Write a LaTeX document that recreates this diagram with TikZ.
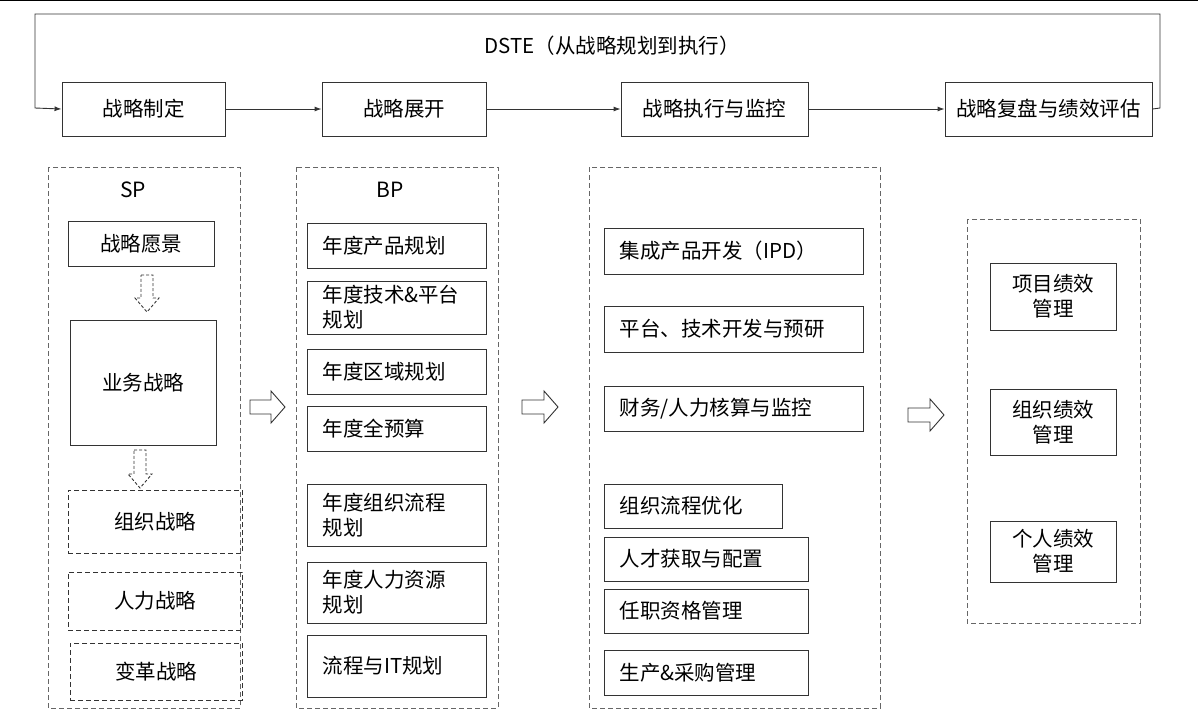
\documentclass[tikz,border=0pt]{standalone}
\usepackage{fontspec}
\setmainfont{Noto Sans CJK SC}
\usetikzlibrary{arrows.meta}
\begin{document}
\begin{tikzpicture}[x=1pt,y=-1pt,
  bx/.style={draw=black!80,line width=0.9pt,inner sep=0pt},
  dbox/.style={draw=black!60,dashed,line width=0.9pt,dash pattern=on 5pt off 3pt},
  con/.style={-{Latex[length=7pt,width=5pt]},line width=0.9pt,black!80},
  hol/.style={draw=black!80,line width=0.9pt,fill=white},
  tx/.style={font=\fontsize{20.5}{25}\selectfont}]
\useasboundingbox (0,0) rectangle (1198,724);
\fill[white] (0,0) rectangle (1198,724);
\draw[line width=1pt] (0,0.5)--(1198,0.5);
\newcommand{\bb}[6]{\node[bx,minimum width=#3-#2,minimum height=#5-#4,#6] (#1) at ({(#2+#3)/2},{(#4+#5)/2}) {};}
% top row
\bb{t1}{62}{225}{82}{136}{}\node[tx] at (t1) {战略制定};
\bb{t2}{322}{486}{82}{136}{}\node[tx] at (t2) {战略展开};
\bb{t3}{621}{808}{82}{136}{}\node[tx] at (t3) {战略执行与监控};
\bb{t4}{945}{1152}{82}{136}{}\node[tx] at (t4) {战略复盘与绩效评估};
\draw[con] (t1)--(t2); \draw[con] (t2)--(t3); \draw[con] (t3)--(t4);
\draw[con] (t4.east)--(1160,108)--(1160,14)--(35,14)--(35,108)--(t1.west);
\node[tx] at (612,46) {DSTE（从战略规划到执行）};
% columns
\draw[dbox] (48,167) rectangle (240,708);
\draw[dbox] (296,167) rectangle (498,708);
\draw[dbox] (589,167) rectangle (880,708);
\draw[dbox] (967,219) rectangle (1140,623);
\node[font=\fontsize{21}{25}\selectfont] at (133,190) {SP};
\node[font=\fontsize{21}{25}\selectfont] at (390,190) {BP};
% col1
\bb{a1}{68}{214}{221}{266}{}\node[tx] at (a1) {战略愿景};
\bb{a2}{70}{216}{320}{445}{}\node[tx] at (a2) {业务战略};
\bb{a3}{68}{242}{490}{553}{dashed,dash pattern=on 5pt off 3pt}\node[tx] at (a3) {组织战略};
\bb{a4}{68}{242}{572}{630}{dashed,dash pattern=on 5pt off 3pt}\node[tx] at (a4) {人力战略};
\bb{a5}{70}{242}{643}{700}{dashed,dash pattern=on 5pt off 3pt}\node[tx] at (a5) {变革战略};
\newcommand{\darr}[3]{\draw[hol,dashed,dash pattern=on 3pt off 2pt] (#1-6,#2)--(#1+6,#2)--(#1+6,#3-14)--(#1+12,#3-14)--(#1,#3)--(#1-12,#3-14)--(#1-6,#3-14)--cycle;}
\darr{147}{275}{312}
\darr{140}{450}{488}
\newcommand{\rarr}[3]{\draw[hol] (#1,#3-7)--(#2-14,#3-7)--(#2-14,#3-16)--(#2,#3)--(#2-14,#3+16)--(#2-14,#3+7)--(#1,#3+7)--cycle;}
\rarr{250}{285}{407}
\rarr{522}{558}{407}
\rarr{908}{944}{415}
% col2
\newcommand{\lb}[6]{\bb{#1}{#2}{#3}{#4}{#5}{}\node[tx,anchor=west,align=left] at ({#2+12},{(#4+#5)/2}) {#6};}
\lb{b1}{307}{486}{223}{268}{年度产品规划}
\lb{b2}{307}{486}{281}{334}{年度技术\&平台\\规划}
\lb{b3}{307}{486}{349}{394}{年度区域规划}
\lb{b4}{307}{486}{406}{451}{年度全预算}
\lb{b5}{307}{486}{484}{546}{年度组织流程\\规划}
\lb{b6}{307}{486}{562}{623}{年度人力资源\\规划}
\lb{b7}{307}{486}{635}{697}{流程与IT规划}
% col3
\lb{c1}{604}{863}{228}{274}{集成产品开发（IPD）}
\lb{c2}{604}{863}{306}{352}{平台、技术开发与预研}
\lb{c3}{604}{863}{386}{431}{财务/人力核算与监控}
\lb{c4}{604}{782}{484}{528}{组织流程优化}
\lb{c5}{604}{808}{537}{581}{人才获取与配置}
\lb{c6}{604}{808}{589}{633}{任职资格管理}
\lb{c7}{604}{808}{650}{695}{生产\&采购管理}
% col4
\bb{d1}{990}{1116}{263}{330}{}\node[tx,align=center] at (d1) {项目绩效\\管理};
\bb{d2}{990}{1116}{389}{455}{}\node[tx,align=center] at (d2) {组织绩效\\管理};
\bb{d3}{990}{1116}{521}{582}{}\node[tx,align=center] at (d3) {个人绩效\\管理};
\end{tikzpicture}
\end{document}
